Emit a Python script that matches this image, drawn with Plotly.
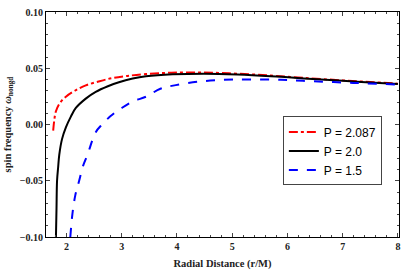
import plotly.graph_objects as go

# Data
r_red = [1.76, 1.78, 1.81, 1.88, 1.99, 2.15, 2.35, 2.6, 2.84, 3.1, 3.44, 3.9, 4.47, 5.08, 5.7, 6.28, 7.0, 7.5, 8.0]
w_red = [-0.0055, 0.004, 0.0118, 0.019, 0.0247, 0.030, 0.0348, 0.0385, 0.0414, 0.0432, 0.0448, 0.0460, 0.0462, 0.0452, 0.0435, 0.0415, 0.0392, 0.0378, 0.0363]

r_blk = [1.81, 1.82, 1.83, 1.85, 1.87, 1.92, 1.99, 2.08, 2.17, 2.35, 2.53, 2.75, 2.95, 3.2, 3.44, 3.92, 4.5, 5.1, 5.7, 6.3, 7.0, 7.5, 8.0]
w_blk = [-0.100, -0.075, -0.050, -0.038, -0.027, -0.013, -0.0026, 0.007, 0.0147, 0.0230, 0.029, 0.0340, 0.0376, 0.0408, 0.0428, 0.0446, 0.0452, 0.0445, 0.0430, 0.0410, 0.0388, 0.0374, 0.0360]

r_blu = [2.07, 2.11, 2.16, 2.23, 2.3, 2.38, 2.53, 2.65, 2.8, 3.0, 3.2, 3.44, 3.7, 3.98, 4.47, 5.08, 5.88, 6.28, 7.19, 8.0]
w_blu = [-0.100, -0.0787, -0.063, -0.050, -0.037, -0.027, -0.0069, 0.0003, 0.0075, 0.0147, 0.0205, 0.0247, 0.0318, 0.0350, 0.0385, 0.0400, 0.0397, 0.0388, 0.0370, 0.0355]

labels = ["P = 2.087", "P = 2.0", "P = 1.5"]
x_ticks = [2, 3, 4, 5, 6, 7, 8]
y_ticks = [-0.10, -0.05, 0.00, 0.05, 0.10]

fig = go.Figure()
fig.add_trace(go.Scatter(x=r_red, y=w_red, mode="lines", name=labels[0],
                         line=dict(color="red", width=2, dash="dashdot", shape="spline")))
fig.add_trace(go.Scatter(x=r_blk, y=w_blk, mode="lines", name=labels[1],
                         line=dict(color="black", width=2, shape="spline")))
fig.add_trace(go.Scatter(x=r_blu, y=w_blu, mode="lines", name=labels[2],
                         line=dict(color="blue", width=2, dash="dash", shape="spline")))

axis_font = dict(family="Liberation Serif", size=10.5, color="#222")
tick_font = dict(family="Liberation Serif", size=10, color="#222", weight="bold")
fig.update_xaxes(range=[1.63, 8.02], tickvals=x_ticks, ticks="inside", ticklen=4,
                 showline=True, linecolor="black", linewidth=1, mirror="ticks",
                 showgrid=False, zeroline=False, tickfont=tick_font,
                 minor=dict(dtick=0.2, ticks="inside", ticklen=2, showgrid=False),
                 title=dict(text="<b>Radial Distance (r/M)</b>", font=axis_font, standoff=8))
fig.update_yaxes(range=[-0.10, 0.10], tickvals=y_ticks, tickformat=".2f", ticks="inside", ticklen=4,
                 showline=True, linecolor="black", linewidth=1, mirror="ticks",
                 showgrid=False, zeroline=False, tickfont=tick_font,
                 minor=dict(dtick=0.01, ticks="inside", ticklen=2, showgrid=False),
                 title=dict(text="<b>spin frequency <i>ω</i><sub>nongd</sub></b>", font=axis_font, standoff=6))

fig.update_layout(
    width=407, height=273,
    margin=dict(l=46, r=8, t=6, b=34),
    plot_bgcolor="white", paper_bgcolor="white",
    legend=dict(x=0.671, y=0.536, xanchor="left", yanchor="top",
                bordercolor="#444", borderwidth=1, bgcolor="white",
                font=dict(family="Liberation Sans", size=12, color="black"),
                tracegroupgap=4),
)
fig.write_html("out.html", config={"displayModeBar": False},
               post_script="document.body.style.margin='0';")
